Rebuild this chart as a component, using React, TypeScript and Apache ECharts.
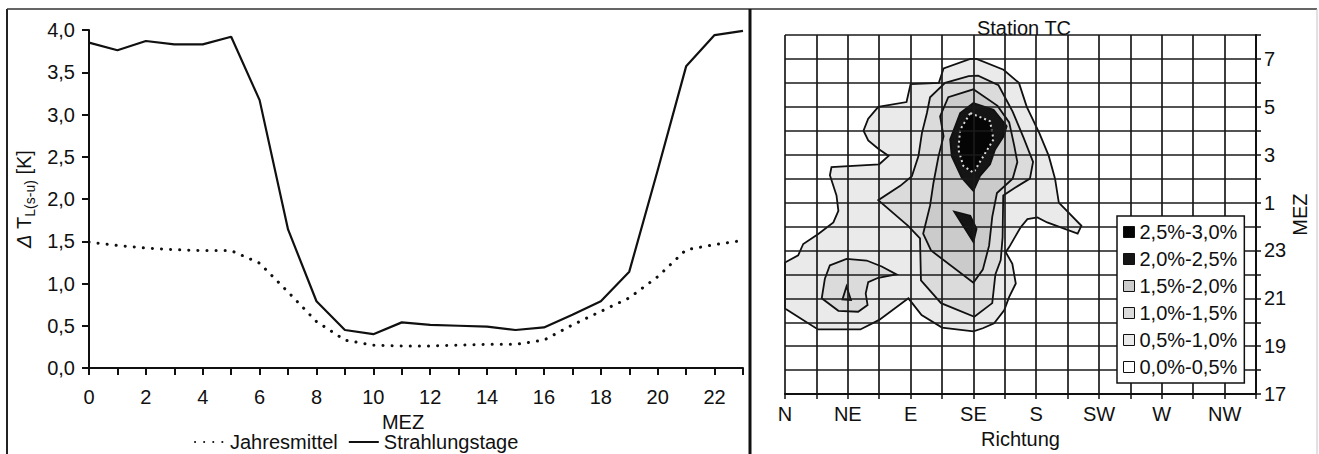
import React, { useEffect, useRef } from "react";
import * as echarts from "echarts";

const FONT = '"Liberation Sans", Arial, Helvetica, sans-serif';
const INK = "#101010";
const FS = 20;

// ---------- left chart data ----------
const hours = [0, 1, 2, 3, 4, 5, 6, 7, 8, 9, 10, 11, 12, 13, 14, 15, 16, 17, 18, 19, 20, 21, 22, 23];
const jahresmittel = [1.49, 1.45, 1.42, 1.4, 1.39, 1.39, 1.24, 0.9, 0.55, 0.33, 0.27, 0.26, 0.26, 0.27, 0.28, 0.28, 0.33, 0.51, 0.67, 0.83, 1.08, 1.4, 1.46, 1.51];
const strahlungstage = [3.85, 3.76, 3.87, 3.83, 3.83, 3.92, 3.17, 1.64, 0.79, 0.45, 0.4, 0.54, 0.51, 0.5, 0.49, 0.45, 0.48, 0.63, 0.79, 1.14, 2.34, 3.57, 3.94, 3.99];

// ---------- right chart data ----------
const directions = ["N", "NNE", "NE", "ENE", "E", "ESE", "SE", "SSE", "S", "SSW", "SW", "WSW", "W", "WNW", "NW", "NNW"];
const mezHours = [17, 18, 19, 20, 21, 22, 23, 0, 1, 2, 3, 4, 5, 6, 7, 8];
const levelNames = ["2,5%-3,0%", "2,0%-2,5%", "1,5%-2,0%", "1,0%-1,5%", "0,5%-1,0%", "0,0%-0,5%"];

// contour polygons in (direction index, hour index) coordinates
const contour05 = [
  [0, 5.5], [0.42, 5.8], [0.58, 6.27], [1.06, 6.69], [1.54, 7.17], [1.7, 7.65], [1.64, 8.3], [1.43, 9.14], [1.48, 9.48],
  [3.0, 9.6], [3.3, 9.95], [2.97, 10.25], [2.65, 10.6], [2.5, 11.0], [2.65, 11.5], [2.97, 12.0], [3.87, 12.2], [4.0, 12.95],
  [4.9, 13.0], [5.05, 13.6], [5.9, 14.0], [6.1, 14.0], [6.96, 13.55], [7.45, 13.0], [7.7, 12.0], [8.1, 10.9], [8.4, 9.95],
  [8.6, 9.0], [8.72, 8.0], [9.44, 7.03], [9.32, 6.7], [8.35, 7.17], [8.04, 7.38], [7.72, 7.31], [7.5, 6.96], [7.14, 6.14],
  [7.03, 5.93], [7.24, 5.44], [7.35, 4.62], [7.14, 4.06], [6.98, 3.5], [6.66, 2.96], [6.3, 2.75], [6.0, 2.62], [5.0, 2.78],
  [4.35, 3.3], [3.93, 4.0], [3.0, 3.1], [2.4, 2.7], [1.05, 2.7], [0.45, 3.2], [0, 3.58],
];
const contour10Main = [
  [5.85, 13.28], [6.15, 13.3], [6.8, 12.9], [7.25, 11.8], [7.6, 10.7], [7.9, 9.7], [7.8, 9.0], [7.3, 8.6], [6.95, 8.3],
  [6.93, 6.55], [6.87, 5.6], [6.7, 5.0], [6.6, 3.8], [6.03, 3.23], [4.97, 3.8], [4.33, 4.75], [4.3, 6.5], [3.92, 7.03],
  [2.97, 8.1], [3.67, 8.7], [4.04, 9.1], [4.25, 9.94], [4.36, 10.9], [4.52, 11.74], [4.62, 12.4], [5.1, 13.0],
];
const contour10NE = [
  [1.43, 5.38], [1.96, 5.65], [2.6, 5.58], [3.08, 5.33], [3.55, 5.0], [2.97, 4.86], [2.65, 4.68], [2.57, 4.2],
  [2.63, 3.72], [2.33, 3.44], [1.7, 3.48], [1.17, 4.0], [1.27, 4.82],
];
const contour15Main = [
  [6.0, 12.73], [6.77, 12.04], [7.14, 11.35], [7.3, 10.38], [7.4, 9.69], [7.25, 9.0], [6.75, 8.4], [6.6, 7.4], [6.5, 6.2],
  [6.3, 5.2], [6.0, 4.65], [4.65, 6.0], [4.4, 6.7], [4.62, 7.87], [4.73, 8.84], [4.89, 9.94], [5.05, 10.77], [4.94, 11.6], [5.2, 12.4],
];
const contour15NE = [[1.96, 4.5], [1.83, 3.95], [2.1, 3.93]];
const contour20Main = [
  [6.0, 12.16], [6.64, 11.88], [7.06, 11.19], [6.96, 10.77], [6.69, 10.22], [6.53, 9.6], [6.21, 9.11], [6.0, 8.49],
  [5.63, 9.04], [5.31, 9.94], [5.26, 10.64], [5.42, 11.19], [5.58, 11.74],
];
const contour20Low = [[5.39, 7.62], [5.9, 7.45], [6.1, 6.9], [6.0, 6.35]];
const contour25 = [
  [5.9, 11.74], [6.53, 11.4], [6.64, 10.64], [6.32, 9.94], [6.0, 9.25], [5.68, 9.53], [5.52, 10.22], [5.58, 11.05],
];

const levelFill: Record<string, string> = {
  "2,5%-3,0%": "#050505",
  "2,0%-2,5%": "#151515",
  "1,5%-2,0%": "#cbcbcb",
  "1,0%-1,5%": "#dbdbdb",
  "0,5%-1,0%": "#eaeaea",
  "0,0%-0,5%": "#ffffff",
};

function polygonSeries(name: string, pts: number[][], stroke = INK, dash?: number[]) {
  const fill = levelFill[name];
  return {
    type: "custom",
    name,
    xAxisIndex: 1,
    yAxisIndex: 1,
    coordinateSystem: "cartesian2d",
    data: pts,
    encode: { x: 0, y: 1 },
    itemStyle: { color: fill, borderColor: INK, borderWidth: 1 },
    silent: true,
    renderItem: (params: any, api: any) => {
      if (params.dataIndex !== 0) return null;
      const points = pts.map((p) => api.coord(p));
      return {
        type: "polygon",
        shape: { points },
        style: { fill, stroke, lineWidth: dash ? 2 : 1.8, lineDash: dash },
      };
    },
  };
}

const txt = { color: INK, fontFamily: FONT };

export default function App() {
  const ref = useRef<HTMLDivElement>(null);
  useEffect(() => {
    const chart = echarts.init(ref.current!, null, { renderer: "svg" });
    const option: any = {
      animation: false,
      backgroundColor: "#ffffff",
      textStyle: { fontFamily: FONT, color: INK },
      title: {
        text: "Station TC",
        left: 1019,
        top: 13,
        textAlign: "center",
        textStyle: { ...txt, fontSize: FS, fontWeight: "normal" },
      },
      grid: [
        { left: 89, top: 30, width: 654, height: 338 },
        { left: 785, top: 35, width: 471, height: 361 },
      ],
      legend: [
        {
          data: ["Jahresmittel", "Strahlungstage"],
          left: 194,
          top: 432,
          itemWidth: 30,
          itemHeight: 12,
          itemGap: 10,
          itemTextGap: 6,
          padding: 0,
          itemStyle: { opacity: 0 },
          textStyle: { ...txt, fontSize: FS },
          selectedMode: false,
        },
        {
          data: levelNames,
          orient: "vertical",
          left: 1117,
          top: 216,
          z: 10,
          backgroundColor: "#ffffff",
          borderColor: INK,
          borderWidth: 1.5,
          borderRadius: 0,
          padding: [6, 7, 6, 6],
          itemWidth: 11,
          itemHeight: 11,
          itemGap: 7,
          itemTextGap: 3,
          icon: "rect",
          itemStyle: { borderColor: INK, borderWidth: 1 },
          textStyle: { ...txt, fontSize: FS },
          selectedMode: false,
        },
      ],
      xAxis: [
        {
          type: "value",
          gridIndex: 0,
          min: 0,
          max: 23,
          interval: 1,
          name: "MEZ",
          nameLocation: "middle",
          nameGap: 37,
          nameTextStyle: { ...txt, fontSize: FS, padding: [0, 26, 0, 0] },
          axisLine: { onZero: false, lineStyle: { color: INK, width: 2 } },
          axisTick: { show: true, length: 7, lineStyle: { color: INK, width: 2 } },
          axisLabel: {
            ...txt,
            fontSize: FS,
            margin: 19,
            formatter: (v: number) => (v % 2 === 0 ? String(v) : ""),
          },
          splitLine: { show: false },
        },
        {
          type: "value",
          gridIndex: 1,
          min: 0,
          max: 15,
          interval: 1,
          z: 3,
          name: "Richtung",
          nameLocation: "middle",
          nameGap: 31,
          nameTextStyle: { ...txt, fontSize: FS },
          axisLine: { onZero: false, lineStyle: { color: INK, width: 2 } },
          axisTick: { show: true, length: 5, lineStyle: { color: INK, width: 1.5 } },
          axisLabel: {
            ...txt,
            fontSize: FS,
            margin: 10,
            formatter: (v: number) => (v % 2 === 0 ? directions[v] : ""),
          },
          splitLine: { show: true, lineStyle: { color: "#1a1a1a", width: 1.7 } },
        },
      ],
      yAxis: [
        {
          type: "value",
          gridIndex: 0,
          min: 0,
          max: 4,
          interval: 0.5,
          name: "{d|\u0394}{t| T}{s|L(s-u)}{t| [K]}",
          nameLocation: "middle",
          nameGap: 52,
          nameRotate: 90,
          nameTextStyle: {
            ...txt,
            fontSize: FS,
            rich: {
              d: { ...txt, fontSize: FS, fontStyle: "italic", lineHeight: 27 },
              t: { ...txt, fontSize: FS, lineHeight: 27 },
              s: { ...txt, fontSize: 14, lineHeight: 14, verticalAlign: "bottom" },
            },
          },
          axisLine: { show: true, lineStyle: { color: INK, width: 2 } },
          axisTick: { show: true, length: 7, lineStyle: { color: INK, width: 2 } },
          axisLabel: {
            ...txt,
            fontSize: FS,
            margin: 14,
            formatter: (v: number) => v.toFixed(1).replace(".", ","),
          },
          splitLine: { show: false },
        },
        {
          type: "value",
          gridIndex: 1,
          position: "right",
          min: 0,
          max: 15,
          interval: 1,
          z: 3,
          name: "MEZ",
          nameLocation: "middle",
          nameGap: 31,
          nameRotate: 90,
          nameTextStyle: { ...txt, fontSize: FS },
          axisLine: { show: true, onZero: false, lineStyle: { color: INK, width: 2 } },
          axisTick: { show: true, length: 5, lineStyle: { color: INK, width: 1.5 } },
          axisLabel: {
            ...txt,
            fontSize: FS,
            margin: 8,
            formatter: (v: number) => (v % 2 === 0 ? String(mezHours[v]) : ""),
          },
          splitLine: { show: true, lineStyle: { color: "#1a1a1a", width: 1.7 } },
        },
      ],
      series: [
        {
          type: "line",
          name: "Jahresmittel",
          xAxisIndex: 0,
          yAxisIndex: 0,
          data: hours.map((h, i) => [h, jahresmittel[i]]),
          showSymbol: false,
          symbol: "none",
          color: INK,
          lineStyle: { color: INK, width: 3, type: [0.1, 9], cap: "round" },
        },
        {
          type: "line",
          name: "Strahlungstage",
          xAxisIndex: 0,
          yAxisIndex: 0,
          data: hours.map((h, i) => [h, strahlungstage[i]]),
          showSymbol: false,
          symbol: "none",
          color: INK,
          lineStyle: { color: INK, width: 2.2 },
        },
        polygonSeries("0,5%-1,0%", contour05),
        polygonSeries("1,0%-1,5%", contour10NE),
        polygonSeries("1,0%-1,5%", contour10Main),
        polygonSeries("1,5%-2,0%", contour15NE),
        polygonSeries("1,5%-2,0%", contour15Main),
        polygonSeries("2,0%-2,5%", contour20Main),
        polygonSeries("2,0%-2,5%", contour20Low),
        polygonSeries("2,5%-3,0%", contour25, "#d8d8d8", [2, 3]),
        polygonSeries("0,0%-0,5%", []),
      ],
      graphic: [
        { type: "line", z: 100, shape: { x1: 7, y1: 9, x2: 7, y2: 454 }, style: { stroke: "#222", lineWidth: 2 } },
        { type: "line", z: 100, shape: { x1: 7, y1: 9, x2: 1317, y2: 9 }, style: { stroke: "#333", lineWidth: 1.5 } },
        { type: "line", z: 100, shape: { x1: 750, y1: 9, x2: 750, y2: 454 }, style: { stroke: "#111", lineWidth: 3 } },
        { type: "line", z: 100, shape: { x1: 1317, y1: 9, x2: 1317, y2: 454 }, style: { stroke: "#c4c4c4", lineWidth: 1 } },
      ],
    };
    chart.setOption(option);
    return () => chart.dispose();
  }, []);
  return (
    <div
      ref={ref}
      style={{ position: "fixed", left: 0, top: 0, width: 1319, height: 454, background: "#fff" }}
    />
  );
}
